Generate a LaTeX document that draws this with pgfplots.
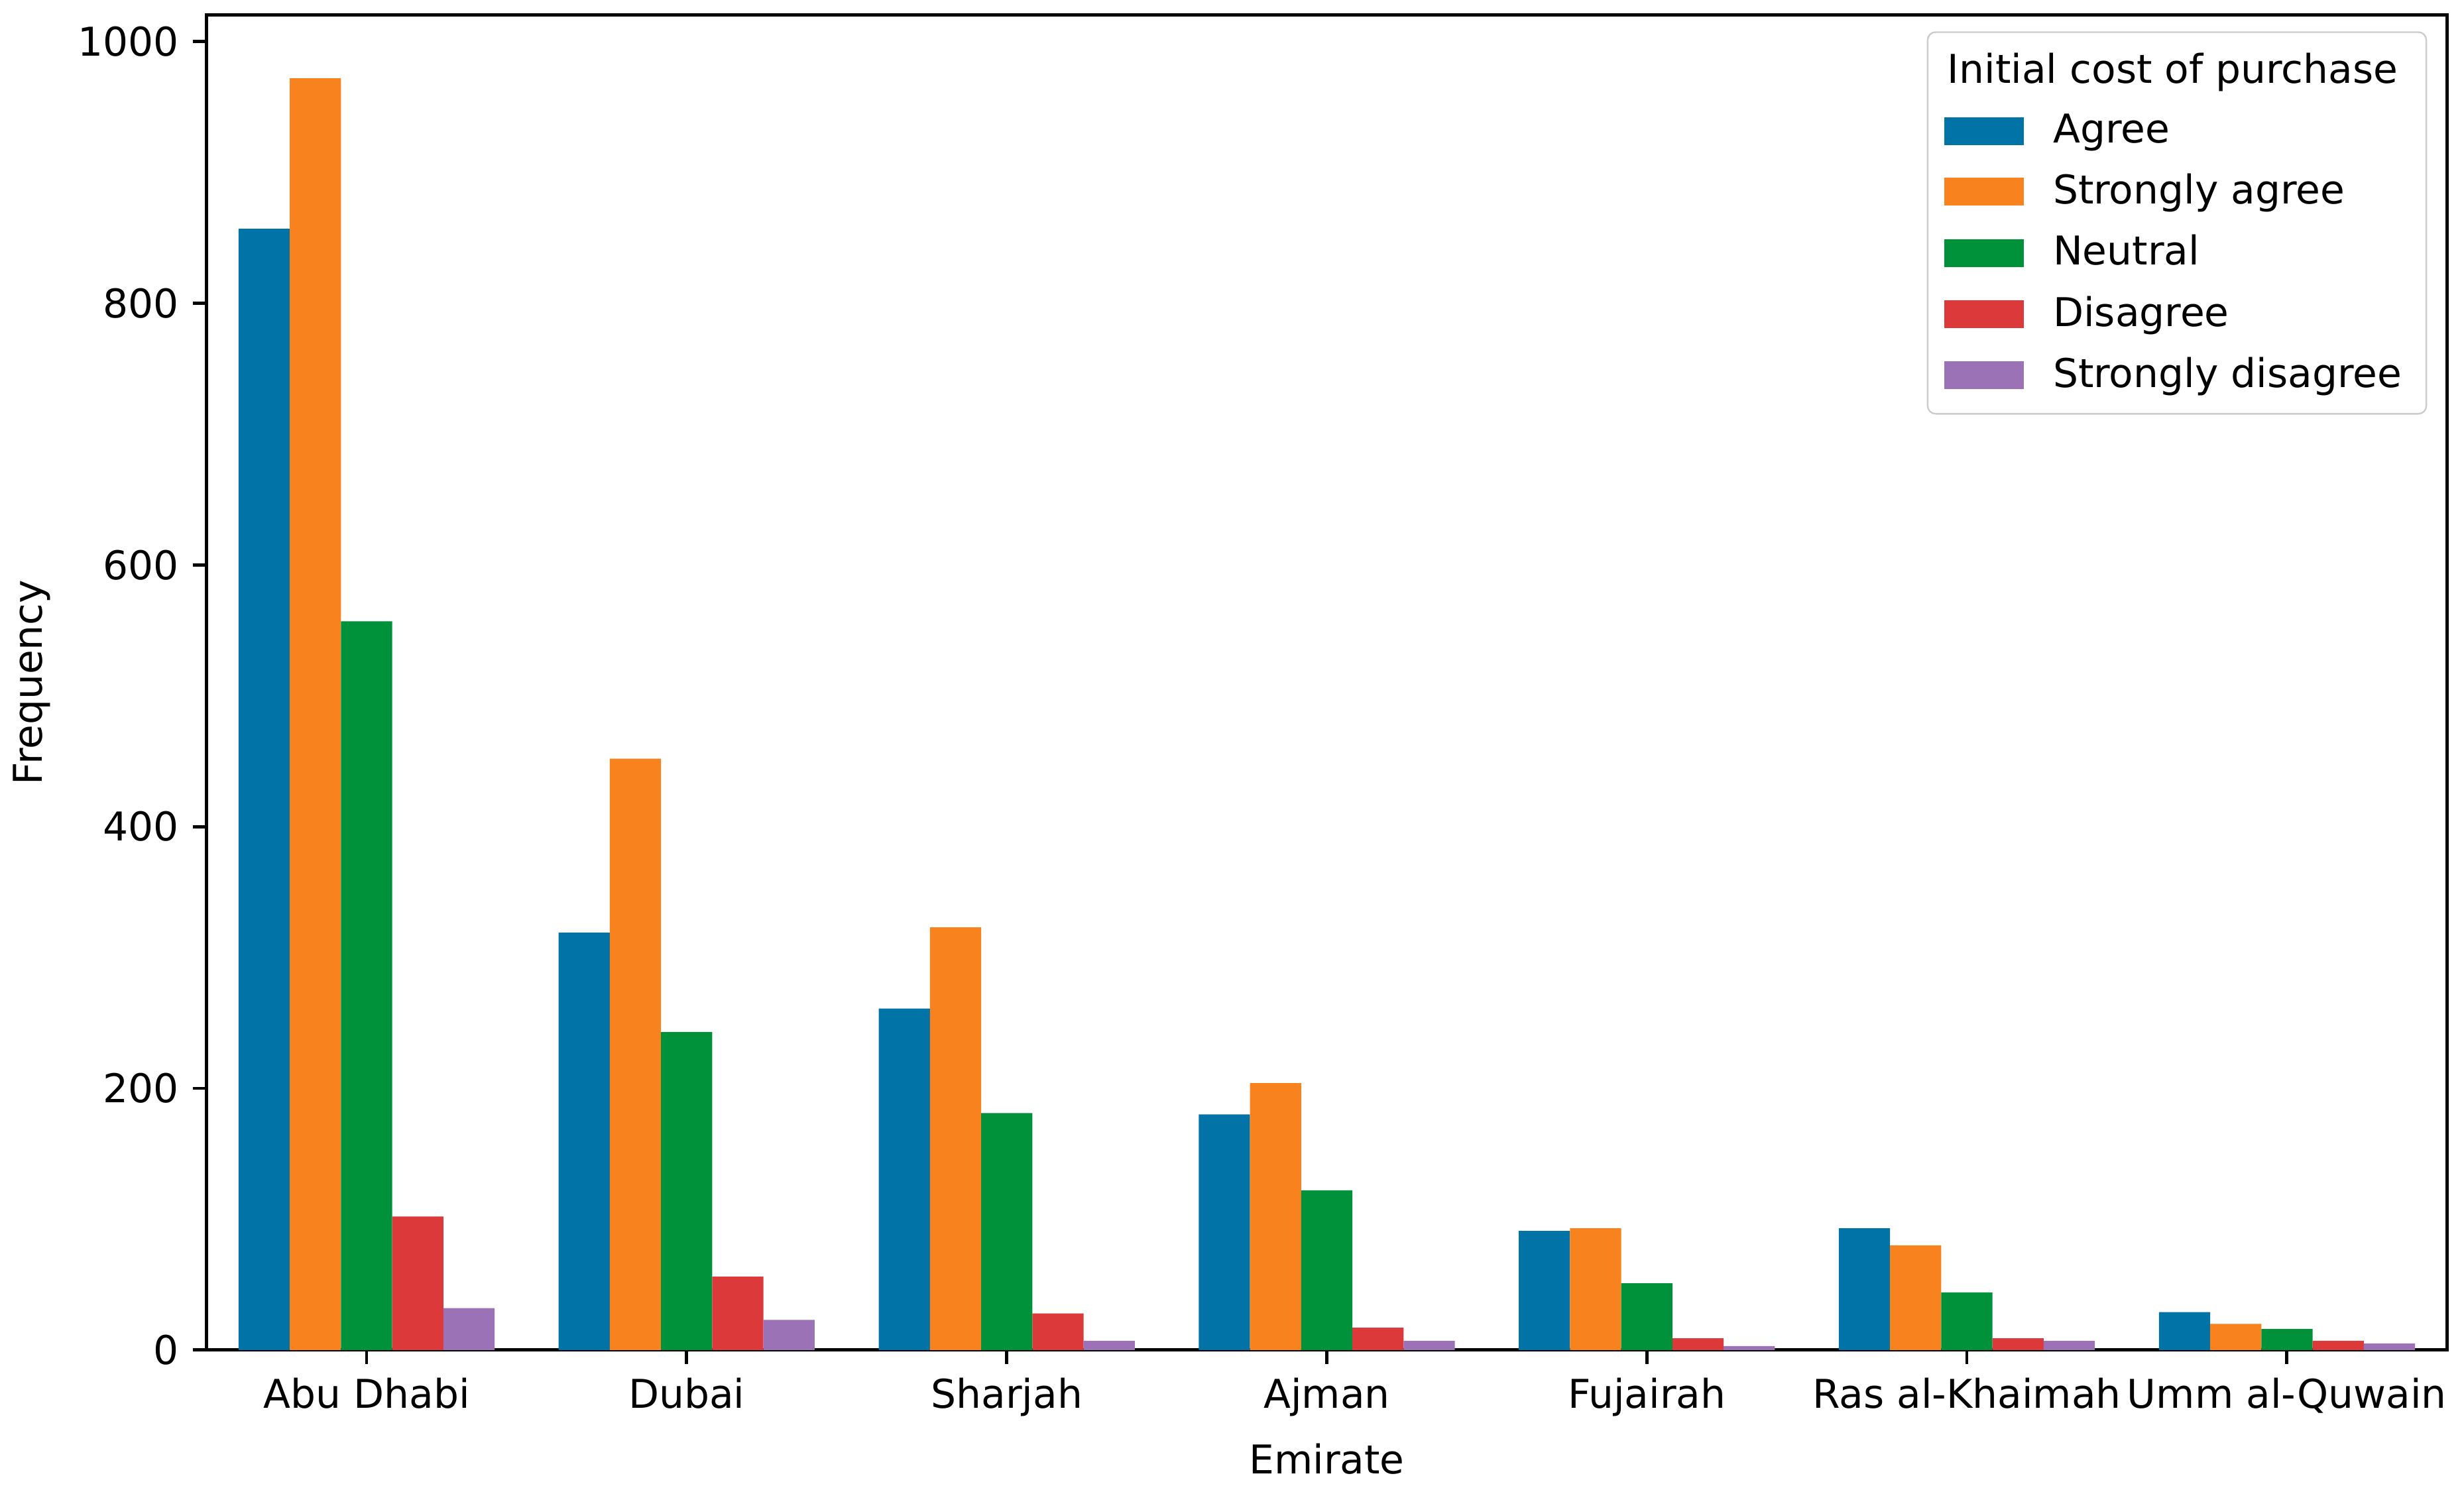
\documentclass[border=0pt]{standalone}
\usepackage{fontspec}
\setmainfont{DejaVu Sans}
\usepackage{pgfplots}
\pgfplotsset{compat=1.18}
\usetikzlibrary{calc}
\definecolor{cA}{HTML}{0173A6}
\definecolor{cB}{HTML}{F8821E}
\definecolor{cC}{HTML}{00923A}
\definecolor{cD}{HTML}{DC3A3A}
\definecolor{cE}{HTML}{9B72B5}
\begin{document}
\begin{tikzpicture}
\begin{axis}[
  scale only axis, width=564.5pt, height=336.5pt,
  xmin=-0.5, xmax=6.5, ymin=0, ymax=1020.6,
  xtick={0,1,2,3,4,5,6},
  xticklabels={Abu Dhabi, Dubai, Sharjah, Ajman, Fujairah, Ras al-Khaimah, Umm al-Quwain},
  ytick={0,200,400,600,800,1000},
  tick align=outside, tick pos=left, major tick length=3.5pt,
  tick style={line width=0.8pt, black},
  axis line style={line width=0.8pt},
  /pgf/number format/assume math mode=true,
  /pgf/number format/1000 sep={},
  xlabel={Emirate}, ylabel={Frequency},
  legend cell align=left,
  legend style={at={(1,1)}, xshift=-5pt, yshift=-4.2pt, anchor=north east,
    draw=black!20, rounded corners=2pt, fill=white, row sep=2.3pt,
    inner xsep=4.2pt, inner ysep=3.2pt,
    /tikz/column sep=5.4pt},
]
\addlegendimage{empty legend}
\addlegendentry{\hspace{-26.6pt}Initial cost of purchase}
\addplot[ybar, bar width=0.16, bar shift=-0.32, fill=cA, draw=none,
  legend image code/.code={\fill[cA, sharp corners] (0pt,-3.5pt) rectangle (20pt,3.5pt);}]
  coordinates {(0,857) (1,319) (2,261) (3,180) (4,91) (5,93) (6,29)};
\addlegendentry{Agree}
\addplot[ybar, bar width=0.16, bar shift=-0.16, fill=cB, draw=none,
  legend image code/.code={\fill[cB, sharp corners] (0pt,-3.5pt) rectangle (20pt,3.5pt);}]
  coordinates {(0,972) (1,452) (2,323) (3,204) (4,93) (5,80) (6,20)};
\addlegendentry{Strongly agree}
\addplot[ybar, bar width=0.16, bar shift=0, fill=cC, draw=none,
  legend image code/.code={\fill[cC, sharp corners] (0pt,-3.5pt) rectangle (20pt,3.5pt);}]
  coordinates {(0,557) (1,243) (2,181) (3,122) (4,51) (5,44) (6,16)};
\addlegendentry{Neutral}
\addplot[ybar, bar width=0.16, bar shift=0.16, fill=cD, draw=none,
  legend image code/.code={\fill[cD, sharp corners] (0pt,-3.5pt) rectangle (20pt,3.5pt);}]
  coordinates {(0,102) (1,56) (2,28) (3,17) (4,9) (5,9) (6,7)};
\addlegendentry{Disagree}
\addplot[ybar, bar width=0.16, bar shift=0.32, fill=cE, draw=none,
  legend image code/.code={\fill[cE, sharp corners] (0pt,-3.5pt) rectangle (20pt,3.5pt);}]
  coordinates {(0,32) (1,23) (2,7) (3,7) (4,3) (5,7) (6,5)};
\addlegendentry{Strongly disagree}
\end{axis}
\path ($(current axis.south west)+(-50.7pt,-33.8pt)$) rectangle ($(current axis.north east)+(4.3pt,3.7pt)$);
\end{tikzpicture}
\end{document}
